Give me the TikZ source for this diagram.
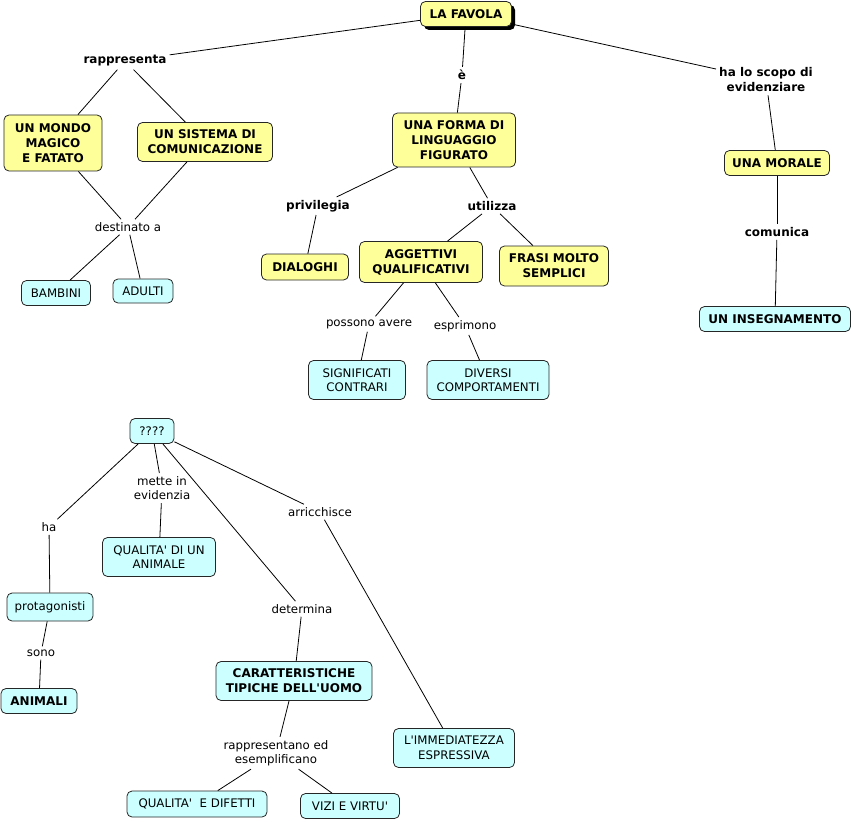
\documentclass[tikz,border=0pt]{standalone}
\usepackage{fontspec}
\setmainfont{DejaVu Sans}
\usetikzlibrary{shadows}
\definecolor{yel}{HTML}{FFFF99}
\definecolor{cyn}{HTML}{CCFFFF}
\newcommand{\fnt}{\fontsize{11.8}{14.5}\selectfont}
\newcommand{\fntb}{\fontsize{12}{15}\selectfont\bfseries}
\newcommand{\q}{\textquotesingle}
\tikzset{
  box/.style={draw=black!85, line width=0.8pt, rounded corners=5pt, align=center, inner sep=1pt, font=\fnt},
  yb/.style={box, fill=yel, font=\fntb},
  cb/.style={box, fill=cyn},
  cbb/.style={box, fill=cyn, font=\fntb},
  lbl/.style={align=center, inner sep=3pt, font=\fnt},
  lblb/.style={lbl, font=\fntb},
  link/.style={draw=black, line width=0.8pt},
  sz/.style 2 args={minimum width=#1pt, minimum height=#2pt}
}
\begin{document}
\begin{tikzpicture}[x=1pt,y=-1pt]
\useasboundingbox (0,0) rectangle (853,821);
% boxes
\node[yb, sz={91}{25}, drop shadow={shadow xshift=3.5pt, shadow yshift=-3.5pt, fill=black, opacity=1}] (fav) at (466,14) {LA FAVOLA};
\node[yb, sz={98}{56}] (mondo) at (53,143) {UN MONDO\\MAGICO\\E FATATO};
\node[yb, sz={135}{39}] (sist) at (205,142) {UN SISTEMA DI\\COMUNICAZIONE};
\node[yb, sz={123}{54}] (forma) at (454,140) {UNA FORMA DI\\LINGUAGGIO\\FIGURATO};
\node[yb, sz={105}{25}] (morale) at (777,163) {UNA MORALE};
\node[cbb, sz={151}{25}] (insegn) at (775,319) {UN INSEGNAMENTO};
\node[cb, sz={69}{25}] (bamb) at (56,293) {BAMBINI};
\node[cb, sz={60}{24}] (adul) at (143,291) {ADULTI};
\node[yb, sz={87}{26}] (dial) at (305,267) {DIALOGHI};
\node[yb, sz={123}{41}] (agg) at (421,262) {AGGETTIVI\\QUALIFICATIVI};
\node[yb, sz={109}{40}] (frasi) at (554,266) {FRASI MOLTO\\SEMPLICI};
\node[cb, sz={97}{39}] (sign) at (357,380) {SIGNIFICATI\\CONTRARI};
\node[cb, sz={122}{39}] (div) at (488,380) {DIVERSI\\COMPORTAMENTI};
\node[cb, sz={44}{25}] (qq) at (152,431) {????};
\node[cb, sz={113}{39}] (qan) at (159,557) {QUALITA\q{} DI UN\\ANIMALE};
\node[cb, sz={86}{28}] (prot) at (50,607) {protagonisti};
\node[cbb, sz={76}{25}] (anim) at (39,701) {ANIMALI};
\node[cbb, sz={156}{39}] (car) at (294,681) {CARATTERISTICHE\\TIPICHE DELL\q{}UOMO};
\node[cb, sz={121}{39}] (imm) at (454,748) {L\q{}IMMEDIATEZZA\\ESPRESSIVA};
\node[cb, sz={140}{26}] (qdif) at (197,804) {QUALITA\q\ \ E DIFETTI};
\node[cb, sz={99}{25}] (vizi) at (350,806) {VIZI E VIRTU\q};
% labels
\node[lblb] (rapp) at (125,61) {rappresenta};
\node[lblb] (e) at (462,75) {è};
\node[lblb] (scopo) at (766,80) {ha lo scopo di\\evidenziare};
\node[lbl] (dest) at (128,227) {destinato a};
\node[lblb] (priv) at (318,206) {privilegia};
\node[lblb] (util) at (492,206) {utilizza};
\node[lblb] (com) at (777,232) {comunica};
\node[lbl] (poss) at (369,324) {possono avere};
\node[lbl] (espr) at (465,326) {esprimono};
\node[lbl] (mette) at (162,488) {mette in\\evidenzia};
\node[lbl] (ha) at (49,527) {ha};
\node[lbl] (arr) at (320,512) {arricchisce};
\node[lbl] (det) at (302,609) {determina};
\node[lbl] (sono) at (41,653) {sono};
\node[lbl] (rapes) at (276,753) {rappresentano ed\\esemplificano};
% links
\draw[link] (fav) -- (rapp);
\draw[link] (rapp) -- (mondo);
\draw[link] (rapp) -- (sist);
\draw[link] (fav) -- (e);
\draw[link] (e) -- (forma);
\draw[link] (fav) -- (scopo);
\draw[link] (scopo) -- (morale);
\draw[link] (mondo) -- (dest);
\draw[link] (sist) -- (dest);
\draw[link] (dest) -- (bamb);
\draw[link] (dest) -- (adul);
\draw[link] (forma) -- (priv);
\draw[link] (forma) -- (util);
\draw[link] (priv) -- (dial);
\draw[link] (util) -- (agg);
\draw[link] (util) -- (frasi);
\draw[link] (morale) -- (com);
\draw[link] (com) -- (insegn);
\draw[link] (agg) -- (poss);
\draw[link] (agg) -- (espr);
\draw[link] (poss) -- (sign);
\draw[link] (espr) -- (div);
\draw[link] (qq) -- (ha);
\draw[link] (qq) -- (mette);
\draw[link] (mette) -- (qan);
\draw[link] (qq) -- (det);
\draw[link] (qq) -- (arr);
\draw[link] (ha) -- (prot);
\draw[link] (prot) -- (sono);
\draw[link] (sono) -- (anim);
\draw[link] (det) -- (car);
\draw[link] (arr) -- (imm);
\draw[link] (car) -- (rapes);
\draw[link] (rapes) -- (qdif);
\draw[link] (rapes) -- (vizi);
\end{tikzpicture}
\end{document}
